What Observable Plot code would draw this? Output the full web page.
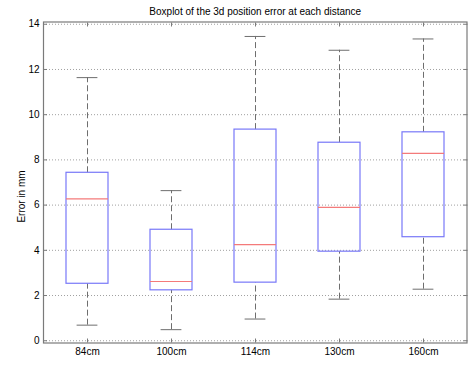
<!DOCTYPE html>
<html>
<head>
<meta charset="utf-8">
<script src="https://cdn.jsdelivr.net/npm/d3@7"></script>
<script src="https://cdn.jsdelivr.net/npm/@observablehq/plot@0.6"></script>
<style>
  html, body { margin: 0; padding: 0; background: #fff; }
  svg { display: block; }
</style>
</head>
<body>
<div id="chart"></div>
<script>
const title = "Boxplot of the 3d position error at each distance";
const yLabel = "Error in mm";
const categories = ["84cm", "100cm", "114cm", "130cm", "160cm"];
const upperWhisker = [11.64, 6.64, 13.46, 12.85, 13.35];
const q3 = [7.43, 4.91, 9.34, 8.76, 9.22];
const median = [6.28, 2.62, 4.25, 5.90, 8.29];
const q1 = [2.52, 2.23, 2.57, 3.94, 4.58];
const lowerWhisker = [0.69, 0.49, 0.96, 1.84, 2.28];
const yTicks = [0, 2, 4, 6, 8, 10, 12, 14];

const data = categories.map((c, i) => ({
  cat: c, hi: upperWhisker[i], q3: q3[i], med: median[i], q1: q1[i], lo: lowerWhisker[i]
}));

const axisColor = "#7a7a7a";
const font = "Liberation Sans, Arial, sans-serif";

const chart = Plot.plot({
  width: 469,
  height: 365,
  marginLeft: 43,
  marginRight: 2.5,
  marginTop: 21.5,
  marginBottom: 22.5,
  style: { fontFamily: font, fontSize: "10px", color: "#000", background: "#fff" },
  x: { type: "band", domain: categories, paddingInner: 0.5, paddingOuter: 0.25 },
  y: { domain: [-0.1, 14.1] },
  marks: [
    Plot.gridY(yTicks, { stroke: "#a0a0a0", strokeOpacity: 1, strokeDasharray: "1,2" }),
    Plot.frame({ stroke: axisColor, strokeWidth: 1.2 }),
    Plot.axisY(yTicks, { anchor: "left", tickSize: -4, tickPadding: 8, stroke: axisColor, fill: "#000", label: null }),
    Plot.axisY(yTicks, { anchor: "right", tickSize: -4, stroke: axisColor, tickFormat: () => "", label: null }),
    Plot.axisX({ anchor: "bottom", tickSize: -4, tickPadding: 9, stroke: axisColor, fill: "#000", label: null }),
    Plot.axisX({ anchor: "top", tickSize: -4, stroke: axisColor, tickFormat: () => "", label: null }),
    Plot.ruleX(data, { x: "cat", y1: "q3", y2: "hi", stroke: "#6e6e6e", strokeDasharray: "6,3" }),
    Plot.ruleX(data, { x: "cat", y1: "lo", y2: "q1", stroke: "#6e6e6e", strokeDasharray: "6,3" }),
    Plot.tickY(data, { x: "cat", y: "hi", stroke: "#6e6e6e", inset: 10.6 }),
    Plot.tickY(data, { x: "cat", y: "lo", stroke: "#6e6e6e", inset: 10.6 }),
    Plot.barY(data, { x: "cat", y1: "q1", y2: "q3", fill: "none", stroke: "#7878f8", strokeWidth: 1.2 }),
    Plot.tickY(data, { x: "cat", y: "med", stroke: "#f47a7a", strokeWidth: 1.2 }),
    Plot.text([title], { text: d => d, frameAnchor: "top", lineAnchor: "middle", textAnchor: "middle", dy: -10.5, fill: "#000", fontSize: 10 }),
    Plot.text([yLabel], { text: d => d, frameAnchor: "left", rotate: -90, textAnchor: "middle", lineAnchor: "middle", dx: -22, dy: 14, fill: "#000", fontSize: 10 })
  ]
});
document.getElementById("chart").appendChild(chart);
</script>
</body>
</html>
